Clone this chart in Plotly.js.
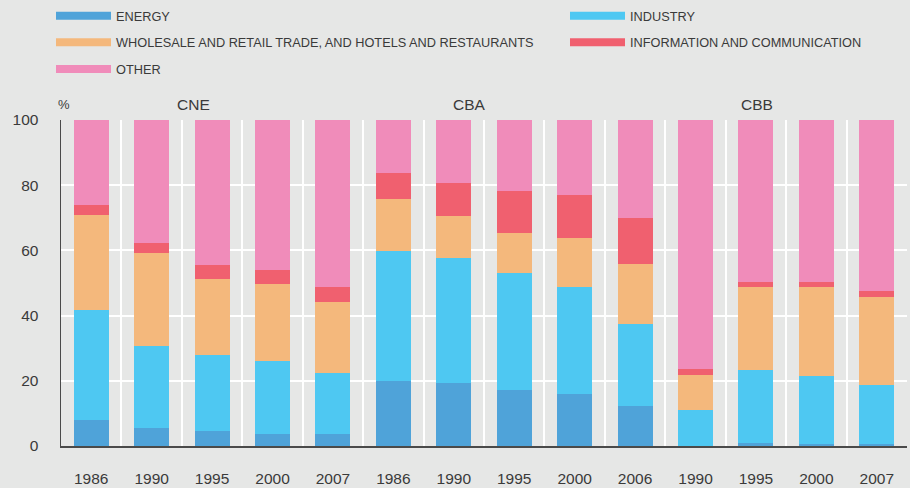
<!DOCTYPE html>
<html>
<head>
<meta charset="utf-8">
<script src="https://cdn.plot.ly/plotly-3.0.1.min.js"></script>
<style>
  html, body { margin: 0; padding: 0; background: #e6e7e6; }
  #chart { width: 910px; height: 488px; }
</style>
</head>
<body>
<div id="chart"></div>
<script>
// ---- data ----
var regions = ["CNE","CNE","CNE","CNE","CNE","CBA","CBA","CBA","CBA","CBA","CBB","CBB","CBB","CBB"];
var years   = ["1986","1990","1995","2000","2007","1986","1990","1995","2000","2006","1990","1995","2000","2007"];
var groupLabels = ["CNE","CBA","CBB"];

var energy    = [8.0, 5.6, 4.7, 3.8, 3.8, 20.0, 19.4, 17.1, 16.0, 12.4, 0.0, 1.0, 0.6, 0.7];
var industry  = [33.8, 25.1, 23.1, 22.4, 18.5, 39.9, 38.4, 36.1, 32.8, 24.9, 11.1, 22.4, 20.8, 18.1];
var wholesale = [29.0, 28.5, 23.4, 23.5, 21.9, 15.8, 12.8, 12.2, 15.1, 18.4, 10.7, 25.5, 27.3, 26.8];
var info      = [3.1, 3.1, 4.3, 4.3, 4.6, 7.9, 10.1, 12.9, 13.0, 14.3, 1.9, 1.4, 1.6, 1.9];
var other     = [26.1, 37.7, 44.5, 46.0, 51.2, 16.4, 19.3, 21.7, 23.1, 30.0, 76.3, 49.7, 49.7, 52.5];

var seriesNames = ["ENERGY","INDUSTRY","WHOLESALE AND RETAIL TRADE, AND HOTELS AND RESTAURANTS","INFORMATION AND COMMUNICATION","OTHER"];
var seriesValues = [energy, industry, wholesale, info, other];
var seriesColors = ["#4fa3d9","#4ec8f2","#f4b87c","#f0606f","#f08cba"];
var legendOf = ["legend","legend2","legend","legend2","legend"];

var ids = regions.map(function(r, i){ return r + " " + years[i]; });

var traces = [];
seriesValues.forEach(function(vals, k){
  traces.push({
    type: "bar",
    x: ids,
    y: vals,
    name: seriesNames[k],
    marker: { color: seriesColors[k], line: { width: 0 } },
    showlegend: false,
    hoverinfo: "y+name"
  });
});
// legend entries (line swatches)
[0,2,4,1,3].forEach(function(k){
  traces.push({
    type: "scatter",
    mode: "lines",
    x: [null],
    y: [null],
    name: seriesNames[k],
    legendgroup: "g" + k,
    legend: legendOf[k],
    line: { color: seriesColors[k], width: 8 },
    showlegend: true,
    hoverinfo: "skip"
  });
});

var txt = "#3a3a3a";
var fontFam = "Liberation Sans, Arial, Helvetica, sans-serif";

var groupX = [0.1564, 0.4823, 0.8227];
var annotations = groupLabels.map(function(g, i){
  return { text: g, xref: "paper", yref: "paper", x: groupX[i], y: 1.049,
           xanchor: "center", yanchor: "middle", showarrow: false,
           font: { size: 15.5, color: txt, family: fontFam } };
});
annotations.push({ text: "%", xref: "paper", yref: "paper", x: 0.0035, y: 1.049,
  xanchor: "center", yanchor: "middle", showarrow: false,
  font: { size: 13, color: txt, family: fontFam } });

var legendCommon = {
  xref: "container", yref: "container",
  yanchor: "top", xanchor: "left",
  orientation: "v",
  bgcolor: "rgba(0,0,0,0)",
  borderwidth: 0,
  itemwidth: 55,
  traceorder: "grouped",
  tracegroupgap: 7,
  font: { size: 12.75, color: txt, family: fontFam },
  itemclick: false, itemdoubleclick: false
};

var layout = {
  width: 910, height: 488,
  margin: { l: 61, r: 3, t: 120, b: 42, pad: 0, autoexpand: false },
  paper_bgcolor: "#e6e7e6",
  plot_bgcolor: "#e6e7e6",
  barmode: "stack",
  bargap: 0.42,
  font: { family: fontFam, color: txt, size: 15.5 },
  xaxis: {
    type: "category",
    categoryorder: "array",
    categoryarray: ids,
    tickmode: "array",
    tickvals: ids,
    ticktext: years,
    tickson: "boundaries",
    ticks: "",
    showgrid: true,
    gridcolor: "#ffffff",
    gridwidth: 2,
    showline: true,
    linecolor: "#4a4a4a",
    linewidth: 1.5,
    ticklabelstandoff: 18,
    tickfont: { size: 15.5, color: txt, family: fontFam },
    automargin: false,
    fixedrange: true
  },
  yaxis: {
    range: [0, 100],
    tickmode: "linear",
    tick0: 0,
    dtick: 20,
    ticks: "",
    showgrid: true,
    gridcolor: "#ffffff",
    gridwidth: 2,
    zeroline: false,
    showline: true,
    linecolor: "#4a4a4a",
    linewidth: 1.5,
    ticklabelstandoff: 18,
    tickfont: { size: 15.5, color: txt, family: fontFam },
    automargin: false,
    fixedrange: true
  },
  legend: Object.assign({}, legendCommon, { x: 51/910, y: 1 - 1/488 }),
  legend2: Object.assign({}, legendCommon, { x: 565/910, y: 1 - 1/488 }),
  annotations: annotations,
  showlegend: true
};

Plotly.newPlot("chart", traces, layout, { displayModeBar: false, staticPlot: true });
</script>
</body>
</html>
